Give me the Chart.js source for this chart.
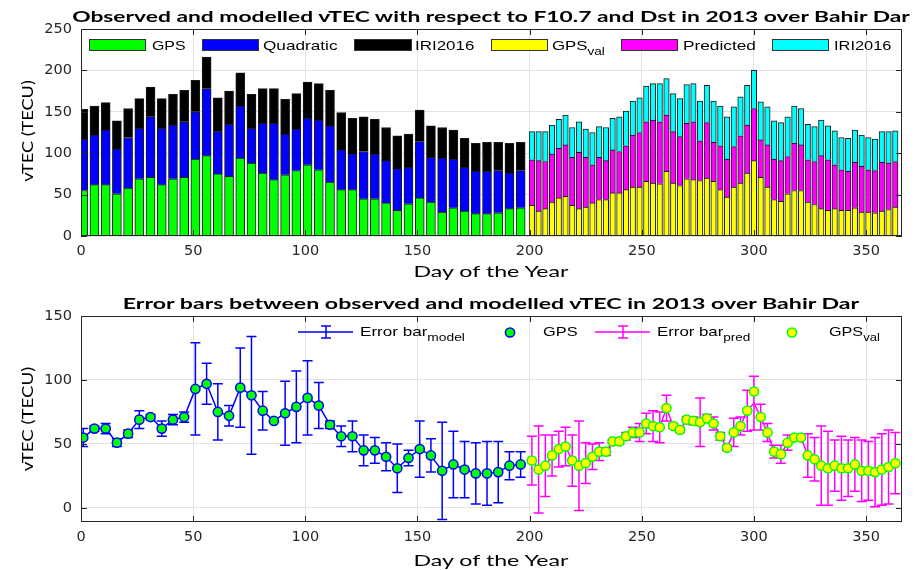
<!DOCTYPE html>
<html>
<head>
<meta charset="utf-8">
<script src="https://cdn.jsdelivr.net/npm/chart.js@4.4.1/dist/chart.umd.min.js"></script>
<style>
  body { margin: 0; background: #fff; width: 915px; height: 570px; overflow: hidden; position: relative; }
  canvas { position: absolute; left: 0; }
  #topChart { top: 0; }
  #botChart { top: 285px; }
  #overlay { position: absolute; left: 0; top: 0; }
  .lbl { position: absolute; white-space: nowrap; color: #000; line-height: 1; }
  .ttl { font-family: Lato, sans-serif; font-weight: bold; font-size: 15px; }
  .ax { font-family: Lato, sans-serif; font-size: 16px; }
  .lg { font-family: "Liberation Sans", Arial, sans-serif; font-size: 13px; transform-origin: 0 50%; }
  .lg sub { font-size: 10.5px; vertical-align: -5px; line-height: 0; }
</style>
</head>
<body>
<canvas id="topChart" width="915" height="285"></canvas>
<canvas id="botChart" width="915" height="285"></canvas>

<svg id="overlay" width="915" height="570">
  <!-- top legend swatches -->
  <rect x="89.5" y="39.5" width="56" height="11" fill="#00ff00" stroke="#333"/>
  <rect x="202.5" y="39.5" width="56" height="11" fill="#0000ff" stroke="#333"/>
  <rect x="354.5" y="39.5" width="57" height="11" fill="#000" stroke="#333"/>
  <rect x="491.5" y="39.5" width="56" height="11" fill="#ffff00" stroke="#333"/>
  <rect x="621.5" y="39.5" width="56" height="11" fill="#ff00ff" stroke="#333"/>
  <rect x="772.5" y="39.5" width="56" height="11" fill="#00ffff" stroke="#333"/>
  <!-- bottom legend symbols -->
  <path d="M298 332H353M326 326V338M321 326H331M321 338H331" stroke="#0000ff" stroke-width="1.5" fill="none"/>
  <circle cx="510" cy="332.5" r="4.6" fill="#00ff00" stroke="#0000ff" stroke-width="1.5"/>
  <path d="M595 332H650M623 326V338M618 326H628M618 338H628" stroke="#ff00ff" stroke-width="1.5" fill="none"/>
  <circle cx="792" cy="332.5" r="4.6" fill="#ffff00" stroke="#00ff00" stroke-width="1.5"/>
</svg>

<div class="lbl ttl" data-cx="491" data-cy="15.5" data-w="838">Observed and modelled vTEC with respect to F10.7 and Dst in 2013 over Bahir Dar</div>
<div class="lbl ax" data-cx="490.5" data-cy="271" data-w="155">Day of the Year</div>
<div class="lbl ax" data-cx="26.7" data-cy="131" data-w="102" data-rot="1">vTEC (TECU)</div>

<div class="lbl lg" data-x="152" data-cy="45" data-w="33">GPS</div>
<div class="lbl lg" data-x="263" data-cy="45" data-w="74">Quadratic</div>
<div class="lbl lg" data-x="415" data-cy="45" data-w="60">IRI2016</div>
<div class="lbl lg" data-x="552" data-cy="45" data-w="53">GPS<sub>val</sub></div>
<div class="lbl lg" data-x="683" data-cy="45" data-w="73">Predicted</div>
<div class="lbl lg" data-x="834" data-cy="45" data-w="58">IRI2016</div>

<div class="lbl ttl" data-cx="491" data-cy="303.3" data-w="736">Error bars between observed and modelled vTEC in 2013 over Bahir Dar</div>
<div class="lbl ax" data-cx="490.5" data-cy="560" data-w="155">Day of the Year</div>
<div class="lbl ax" data-cx="26.7" data-cy="419" data-w="105" data-rot="1">vTEC (TECU)</div>

<div class="lbl lg" data-x="360" data-cy="331" data-w="105">Error bar<sub>model</sub></div>
<div class="lbl lg" data-x="543" data-cy="331" data-w="34">GPS</div>
<div class="lbl lg" data-x="657" data-cy="331" data-w="93">Error bar<sub>pred</sub></div>
<div class="lbl lg" data-x="829" data-cy="331" data-w="51">GPS<sub>val</sub></div>

<script>
/* ================================
   DATA
================================ */

// days 1..196, every 5th day (model period)
const daysObs = [1, 6, 11, 16, 21, 26, 31, 36, 41, 46, 51, 56, 61, 66, 71, 76, 81, 86, 91, 96,
  101, 106, 111, 116, 121, 126, 131, 136, 141, 146, 151, 156, 161, 166, 171, 176, 181, 186, 191, 196];
const gpsObs = [55, 62, 62, 51, 58, 69, 71, 62, 69, 71, 93, 97, 75, 72, 94, 88, 76, 68, 74, 79,
  86, 80, 65, 56, 56, 45, 45, 40, 31, 39, 46, 41, 29, 34, 30, 27, 27, 28, 33, 34];
const quadObs = [62, 60, 66, 54, 61, 61, 73, 68, 65, 67, 57, 81, 51, 63, 63, 42, 60, 68, 49, 50,
  56, 60, 68, 48, 43, 57, 54, 51, 50, 44, 68, 54, 65, 59, 53, 51, 51, 51, 43, 45];
const iriObs = [36, 35, 33, 34, 35, 36, 36, 36, 37, 38, 38, 38, 41, 40, 40, 41, 42, 42, 42, 43,
  44, 44, 43, 45, 43, 42, 42, 40, 40, 40, 38, 38, 37, 35, 35, 34, 35, 34, 36, 34];
const modelErr = [7, 2, 4, 3, 3, 7, 2, 6, 4, 4, 36, 16, 22, 8, 31, 46, 15, 1, 25, 28,
  29, 18, 3, 8, 12, 12, 10, 11, 19, 6, 22, 13, 38, 26, 22, 24, 25, 24, 11, 10];

// days 201..363, every 3rd day (validation period)
const daysVal = [201, 204, 207, 210, 213, 216, 219, 222, 225, 228, 231, 234, 237, 240, 243, 246, 249, 252, 255, 258,
  261, 264, 267, 270, 273, 276, 279, 282, 285, 288, 291, 294, 297, 300, 303, 306, 309, 312, 315, 318,
  321, 324, 327, 330, 333, 336, 339, 342, 345, 348, 351, 354, 357, 360, 363];
const gpsVal = [37, 30, 33, 41, 46, 48, 37, 33, 35, 40, 44, 44, 52, 52, 56, 59, 59, 66, 64, 63,
  78, 64, 61, 69, 68, 67, 70, 66, 56, 47, 59, 64, 76, 91, 71, 59, 44, 42, 51, 55,
  55, 41, 38, 33, 31, 33, 31, 31, 34, 29, 29, 28, 30, 32, 35];
const predVal = [55, 61, 57, 58, 60, 62, 58, 68, 60, 46, 51, 47, 52, 50, 53, 63, 66, 72, 76, 75,
  68, 62, 59, 67, 70, 48, 67, 47, 53, 46, 49, 57, 58, 63, 45, 51, 49, 49, 45, 57,
  55, 51, 52, 64, 61, 53, 49, 47, 55, 55, 51, 51, 59, 56, 55];
const iriVal = [34, 35, 36, 35, 35, 36, 36, 37, 34, 39, 37, 40, 38, 42, 42, 41, 42, 43, 44, 46,
  44, 46, 46, 47, 46, 48, 45, 50, 48, 51, 48, 47, 48, 46, 46, 46, 46, 46, 48, 45,
  44, 43, 42, 43, 41, 41, 39, 40, 39, 38, 39, 38, 37, 38, 37];
const predCenter = [37, 30, 33, 41, 46, 48, 37, 33, 35, 40, 44, 44, 52, 52, 56, 59, 59, 66, 64, 63,
  78, 64, 61, 69, 68, 67, 70, 66, 56, 47, 59, 64, 76, 82, 71, 59, 44, 42, 51, 55,
  55, 41, 38, 33, 31, 33, 31, 31, 34, 29, 29, 28, 30, 32, 35];
const predErr = [19, 34, 24, 16, 14, 15, 20, 35, 16, 10, 7, 3, 1, 2, 3, 4, 7, 8, 12, 12,
  10, 2, 2, 2, 3, 19, 3, 5, 3, 2, 11, 7, 16, 21, 10, 7, 5, 7, 6, 2,
  1, 17, 17, 31, 29, 20, 25, 22, 21, 24, 23, 27, 28, 29, 24];

const xTicks = [0, 50, 100, 150, 200, 250, 300, 350];
const yTicksTop = [0, 50, 100, 150, 200, 250];
const yTicksBottom = [0, 50, 100, 150];

/* ================================
   HELPERS
================================ */

const pts = (days, vals) => days.map((d, i) => ({ x: d, y: vals[i] }));

const tickFont = { family: "DejaVu Sans", size: 14.5 };
const tickColor = "#262626";
const gridColor = "#e2e2e2";
const boxColor = "#262626";

// MATLAB style box around the axes with inward ticks on all sides
const axesBox = {
  id: "axesBox",
  afterDatasetsDraw(chart) {
    const { ctx, chartArea: a, scales: { x, y } } = chart;
    ctx.save();
    ctx.strokeStyle = boxColor;
    ctx.lineWidth = 1;
    ctx.strokeRect(a.left + 0.5, a.top + 0.5, a.right - a.left - 1, a.bottom - a.top - 1);
    ctx.beginPath();
    x.ticks.forEach(t => {
      const px = Math.round(x.getPixelForValue(t.value)) + 0.5;
      ctx.moveTo(px, a.bottom); ctx.lineTo(px, a.bottom - 6);
      ctx.moveTo(px, a.top); ctx.lineTo(px, a.top + 6);
    });
    y.ticks.forEach(t => {
      const py = Math.round(y.getPixelForValue(t.value)) + 0.5;
      ctx.moveTo(a.left, py); ctx.lineTo(a.left + 6, py);
      ctx.moveTo(a.right, py); ctx.lineTo(a.right - 6, py);
    });
    ctx.stroke();
    ctx.restore();
  }
};

// vertical error bars with caps, for datasets that carry an "errors" list
const errorBars = {
  id: "errorBars",
  beforeDatasetsDraw(chart) {
    const { ctx, chartArea: a, scales: { x, y } } = chart;
    ctx.save();
    ctx.beginPath();
    ctx.rect(a.left, a.top, a.right - a.left, a.bottom - a.top);
    ctx.clip();
    chart.data.datasets.forEach(ds => {
      if (!ds.errors) return;
      ctx.strokeStyle = ds.borderColor;
      ctx.lineWidth = 1.5;
      ctx.beginPath();
      ds.data.forEach((p, i) => {
        const px = x.getPixelForValue(p.x);
        const hi = y.getPixelForValue(p.y + ds.errors[i]);
        const lo = y.getPixelForValue(p.y - ds.errors[i]);
        ctx.moveTo(px, hi); ctx.lineTo(px, lo);
        ctx.moveTo(px - 5, hi); ctx.lineTo(px + 5, hi);
        ctx.moveTo(px - 5, lo); ctx.lineTo(px + 5, lo);
      });
      ctx.stroke();
    });
    ctx.restore();
  }
};

function xScale(height) {
  return {
    type: "linear", min: 0, max: 366, offset: false,
    afterBuildTicks: s => { s.ticks = xTicks.map(v => ({ value: v })); },
    afterFit: s => { s.height = height; },
    grid: { color: gridColor, drawTicks: false, offset: false },
    border: { display: false },
    ticks: { font: tickFont, color: tickColor, padding: 7, maxRotation: 0, autoSkip: false }
  };
}

function yScale(min, max, ticks) {
  return {
    min: min, max: max,
    afterBuildTicks: s => { s.ticks = ticks.map(v => ({ value: v })); },
    afterFit: s => { s.width = 81; },
    grid: { color: gridColor, drawTicks: false },
    border: { display: false },
    ticks: { font: tickFont, color: tickColor, padding: 9 }
  };
}

/* ================================
   TOP: stacked bars
================================ */

const topX = xScale(49);
topX.stacked = true;
const topY = yScale(0, 250, yTicksTop);
topY.stacked = true;

new Chart(document.getElementById("topChart"), {
  type: "bar",
  data: {
    datasets: [
      { label: "GPS", data: pts(daysObs, gpsObs), backgroundColor: "#00ff00", barThickness: 9 },
      { label: "Quadratic", data: pts(daysObs, quadObs), backgroundColor: "#0000ff", barThickness: 9 },
      { label: "IRI2016", data: pts(daysObs, iriObs), backgroundColor: "#000000", barThickness: 9 },
      { label: "GPS val", data: pts(daysVal, gpsVal), backgroundColor: "#ffff00", barThickness: 5.5 },
      { label: "Predicted", data: pts(daysVal, predVal), backgroundColor: "#ff00ff", barThickness: 5.5 },
      { label: "IRI2016", data: pts(daysVal, iriVal), backgroundColor: "#00ffff", barThickness: 5.5 }
    ]
  },
  options: {
    responsive: false,
    animation: false,
    layout: { padding: { top: 29, right: 13, bottom: 0, left: 0 } },
    datasets: { bar: { borderColor: "#1a1a1a", borderWidth: 1 } },
    plugins: { legend: { display: false }, tooltip: { enabled: false } },
    scales: { x: topX, y: topY }
  },
  plugins: [axesBox]
});

/* ================================
   BOTTOM: error bars
================================ */

new Chart(document.getElementById("botChart"), {
  type: "scatter",
  data: {
    datasets: [
      { label: "Error bar model", data: pts(daysObs, gpsObs), errors: modelErr, showLine: true,
        borderColor: "#0000ff", borderWidth: 1.5, pointRadius: 0, order: 2 },
      { label: "GPS", data: pts(daysObs, gpsObs), pointRadius: 4.6,
        backgroundColor: "#00ff00", borderColor: "#0000ff", borderWidth: 1.5, order: 1 },
      { label: "Error bar pred", data: pts(daysVal, predCenter), errors: predErr, showLine: true,
        borderColor: "#ff00ff", borderWidth: 1.5, pointRadius: 0, order: 2 },
      { label: "GPS val", data: pts(daysVal, gpsVal), pointRadius: 4.6,
        backgroundColor: "#ffff00", borderColor: "#00ff00", borderWidth: 1.5, order: 1 }
    ]
  },
  options: {
    responsive: false,
    animation: false,
    layout: { padding: { top: 31, right: 13, bottom: 0, left: 0 } },
    plugins: { legend: { display: false }, tooltip: { enabled: false } },
    scales: { x: xScale(48), y: yScale(-11, 150, yTicksBottom) }
  },
  plugins: [errorBars, axesBox]
});

/* ================================
   TEXT PLACEMENT (stretched like the figure)
================================ */

document.querySelectorAll(".lbl").forEach(el => {
  const k = (+el.dataset.w) / el.offsetWidth;
  el.style.top = el.dataset.cy + "px";
  if (el.dataset.x) {
    el.style.left = el.dataset.x + "px";
    el.style.transform = `translateY(-50%) scaleX(${k})`;
  } else {
    el.style.left = el.dataset.cx + "px";
    el.style.transform = el.dataset.rot
      ? `translate(-50%,-50%) rotate(-90deg) scaleX(${k})`
      : `translate(-50%,-50%) scaleX(${k})`;
  }
});
</script>
</body>
</html>
